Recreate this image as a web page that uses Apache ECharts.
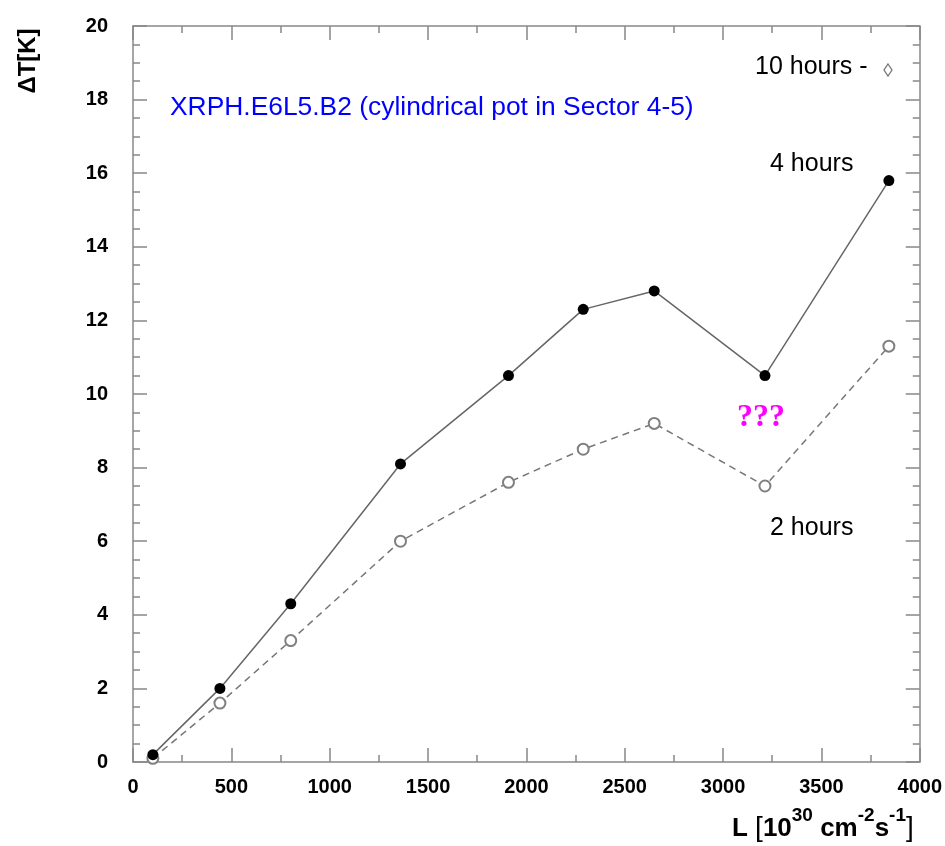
<!DOCTYPE html>
<html>
<head>
<meta charset="utf-8">
<script src="https://cdn.jsdelivr.net/npm/echarts@6/dist/echarts.min.js"></script>
<style>html,body{margin:0;padding:0;background:#fff}#c{width:945px;height:846px}</style>
</head>
<body>
<div id="c"></div>
<script>
var lumi = [101, 442, 802, 1360, 1909, 2289, 2650, 3213, 3843];
var dT4h = [0.2, 2.0, 4.3, 8.1, 10.5, 12.3, 12.8, 10.5, 15.8];
var dT2h = [0.1, 1.6, 3.3, 6.0, 7.6, 8.5, 9.2, 7.5, 11.3];
var xTicks = [0, 500, 1000, 1500, 2000, 2500, 3000, 3500, 4000];
var yTicks = [0, 2, 4, 6, 8, 10, 12, 14, 16, 18, 20];

function pairs(xs, ys){ return xs.map(function(x,i){ return [x, ys[i]]; }); }

var axisCol = '#888';
var font = 'Liberation Sans, Arial, Helvetica, sans-serif';
function xAx(pos, showLabel){
  return {
    type:'value', position:pos, min:xTicks[0], max:xTicks[xTicks.length-1], interval:500,
    axisLine:{show:true, onZero:false, lineStyle:{color:axisCol, width:1.5}},
    axisTick:{show:true, inside:true, length:14, lineStyle:{color:axisCol, width:1.5}},
    minorTick:{show:true, splitNumber:2, length:7, lineStyle:{color:axisCol, width:1.5}},
    splitLine:{show:false}, minorSplitLine:{show:false},
    axisLabel:{show:showLabel, margin:15, color:'#000', fontWeight:'bold', fontSize:20, fontFamily:font,
      formatter:function(v){ return String(v); }}
  };
}
function yAx(pos, showLabel){
  return {
    type:'value', position:pos, min:yTicks[0], max:yTicks[yTicks.length-1], interval:2,
    axisLine:{show:true, onZero:false, lineStyle:{color:axisCol, width:1.5}},
    axisTick:{show:true, inside:true, length:14, lineStyle:{color:axisCol, width:1.5}},
    minorTick:{show:true, splitNumber:4, length:7, lineStyle:{color:axisCol, width:1.5}},
    splitLine:{show:false}, minorSplitLine:{show:false},
    axisLabel:{show:showLabel, margin:25, color:'#000', fontWeight:'bold', fontSize:20, fontFamily:font,
      formatter:function(v){ return String(v); }}
  };
}

var chart = echarts.init(document.getElementById('c'), null, {renderer:'canvas'});
chart.setOption({
  animation:false,
  backgroundColor:'#fff',
  grid:{left:133, right:24, top:26, bottom:84},
  xAxis:[xAx('bottom', true), xAx('top', false)],
  yAxis:[yAx('left', true), yAx('right', false)],
  series:[
    {
      type:'line', name:'2 hours', xAxisIndex:0, yAxisIndex:0,
      data:pairs(lumi, dT2h),
      symbol:'emptyCircle', symbolSize:11, showSymbol:true, showAllSymbol:true,
      lineStyle:{color:'#777', width:1.5, type:[7,5]},
      itemStyle:{color:'#808080', borderColor:'#808080', borderWidth:1.2},
      z:2
    },
    {
      type:'line', name:'4 hours', xAxisIndex:0, yAxisIndex:0,
      data:pairs(lumi, dT4h),
      symbol:'circle', symbolSize:11,
      lineStyle:{color:'#666', width:1.5},
      itemStyle:{color:'#000', borderColor:'#000', borderWidth:0},
      z:3
    }
  ],
  graphic:[
    {type:'text', left:170, top:95, style:{text:'XRPH.E6L5.B2 (cylindrical pot in Sector 4-5)', fill:'#0000ff', font:'26.4px '+font}},
    {type:'text', left:755, top:55, style:{text:'10 hours -', fill:'#000', font:'25px '+font}},
    {type:'polygon', shape:{points:[[888,64],[892,70],[888,76],[884,70]]}, style:{fill:'#fff', stroke:'#777', lineWidth:1.3}},
    {type:'text', left:770, top:152, style:{text:'4 hours', fill:'#000', font:'25px '+font}},
    {type:'text', left:770, top:516, style:{text:'2 hours', fill:'#000', font:'25px '+font}},
    {type:'text', left:737, top:402, style:{text:'???', fill:'#ff00ff', font:'bold 32px Liberation Serif, Times New Roman, serif'}},
    {type:'text', x:28, y:61, rotation:Math.PI/2, style:{text:'ΔT[K]', fill:'#000', font:'bold 24px '+font, align:'center', verticalAlign:'middle'}},
    {type:'text', left:732, top:806, style:{
      text:'{b|L }{t|[}{b|10}{s|30}{b| cm}{s|-2}{b|s}{s|-1}{t|]}',
      rich:{
        b:{fontSize:26, fontWeight:'bold', fontFamily:font, fill:'#000', verticalAlign:'bottom', lineHeight:36},
        t:{fontSize:28, fontWeight:'normal', fontFamily:font, fill:'#000', verticalAlign:'bottom', lineHeight:36},
        s:{fontSize:19, fontWeight:'bold', fontFamily:font, fill:'#000', verticalAlign:'top', lineHeight:36}
      }
    }}
  ]
});
</script>
</body>
</html>
